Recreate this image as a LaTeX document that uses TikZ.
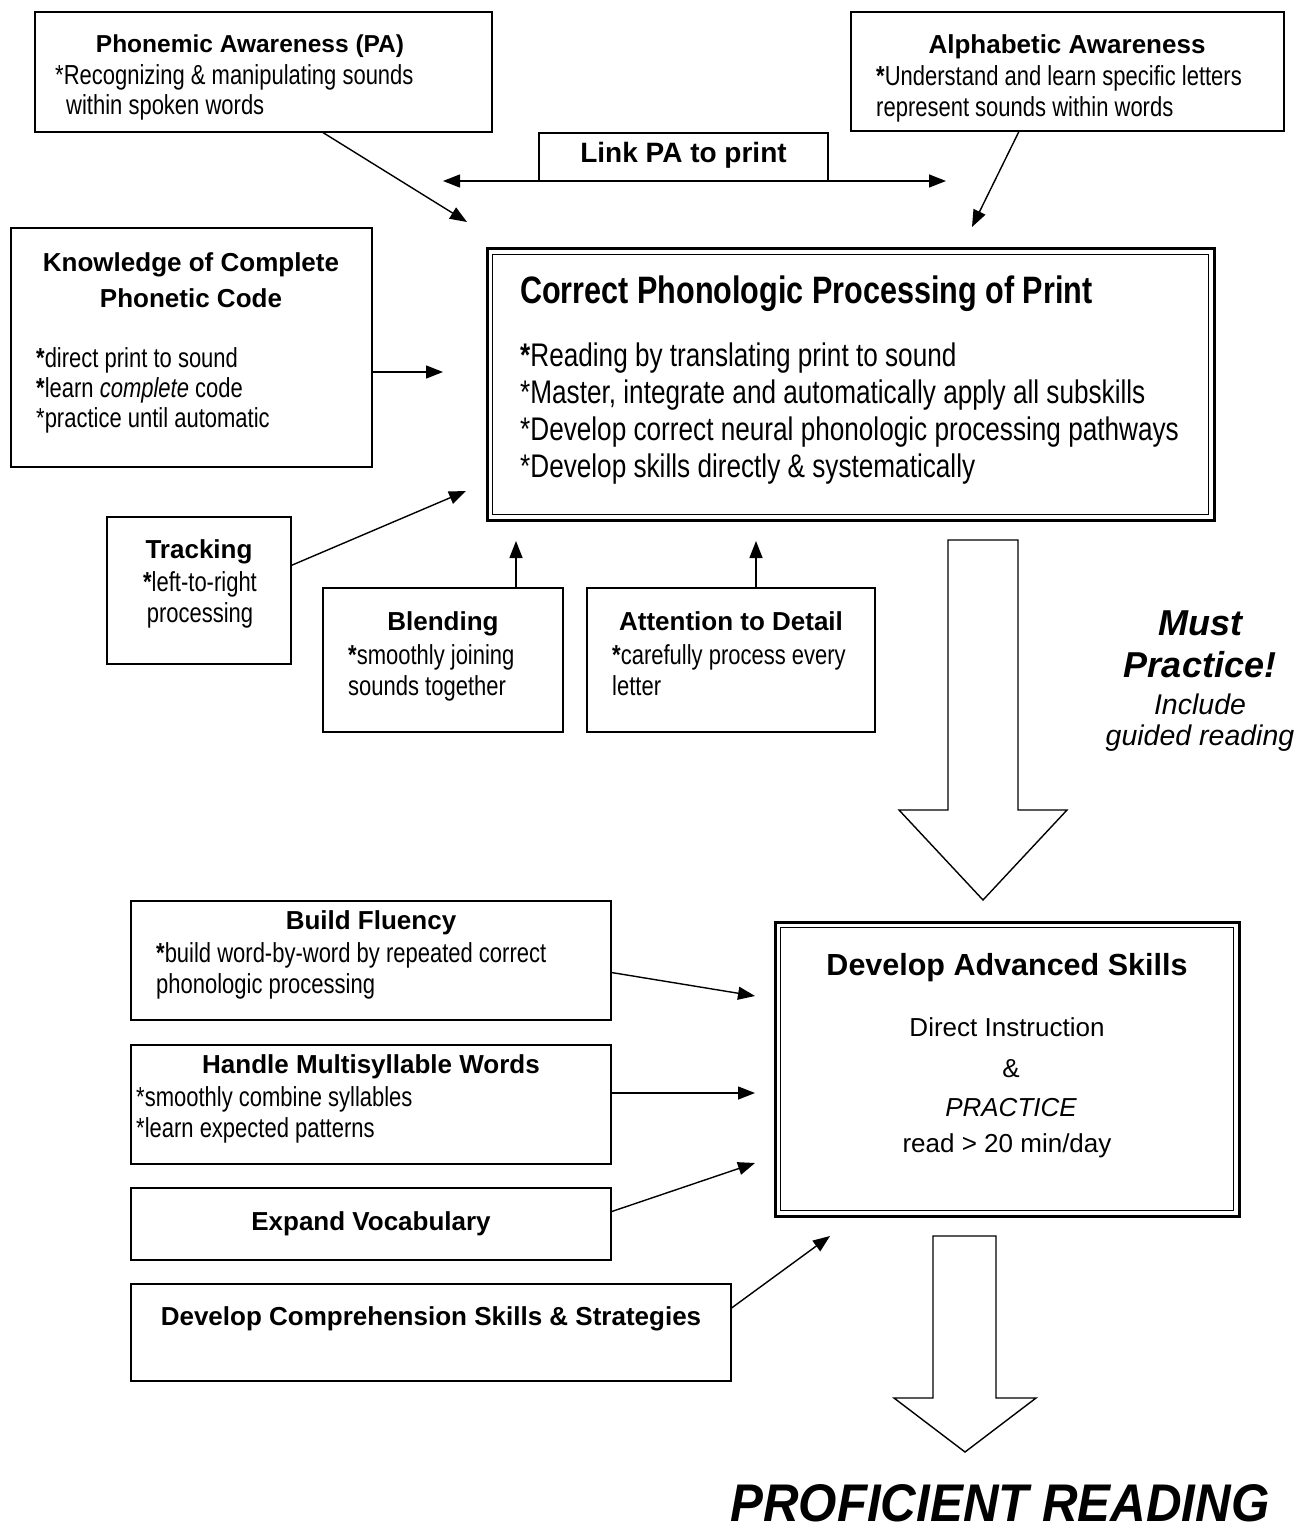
\documentclass[tikz,border=0pt]{standalone}
\usepackage{fontspec}
\setmainfont{Liberation Sans}
\newfontfamily\narrowfont{Liberation Sans}[FakeStretch=0.8]
\newfontfamily\bigfont{Liberation Sans}[FakeStretch=0.93]
\usetikzlibrary{arrows.meta,calc}
\begin{document}
\begin{tikzpicture}[x=1pt,y=-1pt,
  box/.style={draw, line width=1.3pt, rectangle, inner sep=0pt},
  dbox/.style={draw, line width=3pt, rectangle, inner sep=0pt},
  arr/.style={line width=1.4pt, -{Triangle[length=17pt,width=13pt]}},
  darr/.style={line width=1.4pt, {Triangle[length=17pt,width=13pt]}-{Triangle[length=17pt,width=13pt]}},
  bigarr/.style={line width=1.4pt, line join=miter},
  ttl/.style={font=\fontsize{26}{30}\selectfont\bfseries, inner sep=0pt, anchor=base},
  txt/.style={font=\narrowfont\fontsize{27.5}{30}\selectfont, inner sep=0pt, anchor=base west},
  txtc/.style={font=\narrowfont\fontsize{27.5}{30}\selectfont, inner sep=0pt, anchor=base},
  mttl/.style={font=\narrowfont\fontsize{38.2}{42}\selectfont\bfseries, inner sep=0pt, anchor=base west},
  mtxt/.style={font=\narrowfont\fontsize{32.7}{36}\selectfont, inner sep=0pt, anchor=base west},
  dttl/.style={font=\fontsize{30.5}{34}\selectfont\bfseries, inner sep=0pt, anchor=base},
  dtxt/.style={font=\fontsize{26}{30}\selectfont, inner sep=0pt, anchor=base}]
\useasboundingbox (0,0) rectangle (1302,1530);

% ---------- boxes ----------
\node[box, minimum width=457pt, minimum height=120pt] (pa) at (263.5,72) {};
\node[box, minimum width=433pt, minimum height=119pt] (aa) at (1067.5,71.5) {};
\node[box, minimum width=361pt, minimum height=239pt] (know) at (191.5,347.5) {};
\node[dbox, minimum width=727pt, minimum height=271pt] (cpp) at (850.5,384.5) {};
\draw[line width=1.3pt] ($(cpp.north west)+(7,7)$) rectangle ($(cpp.south east)+(-7,-7)$);
\node[box, minimum width=184pt, minimum height=147pt] (track) at (199,590.5) {};
\node[box, minimum width=240pt, minimum height=144pt] (blend) at (443,660) {};
\node[box, minimum width=288pt, minimum height=144pt] (attn) at (731,660) {};
\node[dbox, minimum width=464pt, minimum height=294pt] (das) at (1007,1069) {};
\draw[line width=1.3pt] ($(das.north west)+(7,7)$) rectangle ($(das.south east)+(-7,-7)$);
\node[box, minimum width=480pt, minimum height=119pt] (flu) at (371,960.5) {};
\node[box, minimum width=480pt, minimum height=119pt] (multi) at (371,1104.5) {};
\node[box, minimum width=480pt, minimum height=72pt] (vocab) at (371,1224) {};
\node[box, minimum width=600pt, minimum height=97pt] (comp) at (431,1332.5) {};

% ---------- link PA to print ----------
\coordinate (linkL) at (443,181);
\coordinate (linkR) at (946,181);
\node[box, minimum width=289pt, minimum height=48pt] (link) at (683.5,157) {};
\draw[darr] (linkL) -- (linkR);
\node[ttl, font=\fontsize{28}{32}\selectfont\bfseries] (tlink) at (683.5,163) {Link PA to print};

% ---------- texts ----------
\node[ttl, font=\fontsize{24.5}{28}\selectfont\bfseries] (tpa) at (250,53) {Phonemic Awareness (PA)};
\node[txt] (tpa1) at (55,85) {*Recognizing \& manipulating sounds};
\node[txt] (tpa2) at (66,115) {within spoken words};

\node[ttl] (taa) at (1067,54) {Alphabetic Awareness};
\node[txt] (taa1) at (876,86) {\textbf{*}Understand and learn specific letters};
\node[txt] (taa2) at (876,117) {represent sounds within words};

\node[ttl] (tk1) at (191,271) {Knowledge of Complete};
\node[ttl] (tk2) at (191,307) {Phonetic Code};
\node[txt] (tk3) at (36,367) {\textbf{*}direct print to sound};
\node[txt] (tk4) at (36,397) {\textbf{*}learn \textit{complete} code};
\node[txt] (tk5) at (36,427) {*practice until automatic};

\node[mttl] (tc0) at (520,303) {Correct Phonologic Processing of Print};
\node[mtxt] (tc1) at (520,366) {\textbf{*}Reading by translating print to sound};
\node[mtxt] (tc2) at (520,403) {*Master, integrate and automatically apply all subskills};
\node[mtxt] (tc3) at (520,440) {*Develop correct neural phonologic processing pathways};
\node[mtxt] (tc4) at (520,477) {*Develop skills directly \& systematically};

\node[ttl] (tt0) at (199,558) {Tracking};
\node[txtc] (tt1) at (200,591) {\textbf{*}left-to-right};
\node[txtc] (tt2) at (200,622) {processing};

\node[ttl] (tb0) at (443,630) {Blending};
\node[txt] (tb1) at (348,664) {\textbf{*}smoothly joining};
\node[txt] (tb2) at (348,695) {sounds together};

\node[ttl] (ta0) at (731,630) {Attention to Detail};
\node[txt] (ta1) at (612,664) {\textbf{*}carefully process every};
\node[txt] (ta2) at (612,695) {letter};

\node[font=\fontsize{36}{40}\selectfont\bfseries\itshape, inner sep=0pt, anchor=base] (mp1) at (1200,635) {Must};
\node[font=\fontsize{36}{40}\selectfont\bfseries\itshape, inner sep=0pt, anchor=base] (mp2) at (1200,677) {Practice!};
\node[font=\fontsize{28.5}{32}\selectfont\itshape, inner sep=0pt, anchor=base] (mp3) at (1200,714) {Include};
\node[font=\fontsize{28.5}{32}\selectfont\itshape, inner sep=0pt, anchor=base] (mp4) at (1200,745) {guided reading};

\node[dttl] (td0) at (1007,975) {Develop Advanced Skills};
\node[dtxt] (td1) at (1007,1036) {Direct Instruction};
\node[dtxt] (td2) at (1011,1077) {\&};
\node[dtxt, font=\fontsize{26}{30}\selectfont\itshape] (td3) at (1011,1116) {PRACTICE};
\node[dtxt] (td4) at (1007,1152) {read > 20 min/day};

\node[ttl] (tf0) at (371,929) {Build Fluency};
\node[txt] (tf1) at (156,962) {\textbf{*}build word-by-word by repeated correct};
\node[txt] (tf2) at (156,993) {phonologic processing};

\node[ttl] (tm0) at (371,1073) {Handle Multisyllable Words};
\node[txt] (tm1) at (136,1106) {*smoothly combine syllables};
\node[txt] (tm2) at (136,1137) {*learn expected patterns};

\node[ttl] (tv0) at (371,1230) {Expand Vocabulary};
\node[ttl] (tco) at (431,1325) {Develop Comprehension Skills \& Strategies};

\node[font=\bigfont\fontsize{53}{58}\selectfont\bfseries\itshape, inner sep=0pt, anchor=base west] (prof) at (730,1521) {PROFICIENT READING};

% ---------- arrows ----------
\coordinate (tipPA) at (467,222);
\coordinate (tipAA) at (972,227);
\coordinate (tipK) at (443,372);
\coordinate (tipT) at (466,491);
\coordinate (tipB) at (516,541);
\coordinate (tipA) at (756,541);
\coordinate (tipF) at (755,996);
\coordinate (tipM) at (755,1093);
\coordinate (tipV) at (755,1163);
\coordinate (tipC) at (830,1236);

\draw[arr] ($(pa.south west)!0.63!(pa.south east)$) -- (tipPA);
\draw[arr] ($(aa.south west)!0.388!(aa.south east)$) -- (tipAA);
\draw[arr] (know.east |- tipK) -- (tipK);
\draw[arr] ($(track.north east)!0.33!(track.south east)$) -- (tipT);
\draw[arr] (blend.north -| tipB) -- (tipB);
\draw[arr] (attn.north -| tipA) -- (tipA);
\draw[arr] ($(flu.north east)!0.6!(flu.south east)$) -- (tipF);
\draw[arr] (multi.east |- tipM) -- (tipM);
\draw[arr] ($(vocab.north east)!0.33!(vocab.south east)$) -- (tipV);
\draw[arr] ($(comp.north east)!0.25!(comp.south east)$) -- (tipC);

% ---------- big block arrows ----------
\draw[bigarr] (948,540) -- (1018,540) -- (1018,810) -- (1067,810) -- (983,900) -- (899,810) -- (948,810) -- cycle;
\draw[bigarr] (933,1236) -- (996,1236) -- (996,1398) -- (1036,1398) -- (965,1452) -- (894,1398) -- (933,1398) -- cycle;
\end{tikzpicture}
\end{document}
